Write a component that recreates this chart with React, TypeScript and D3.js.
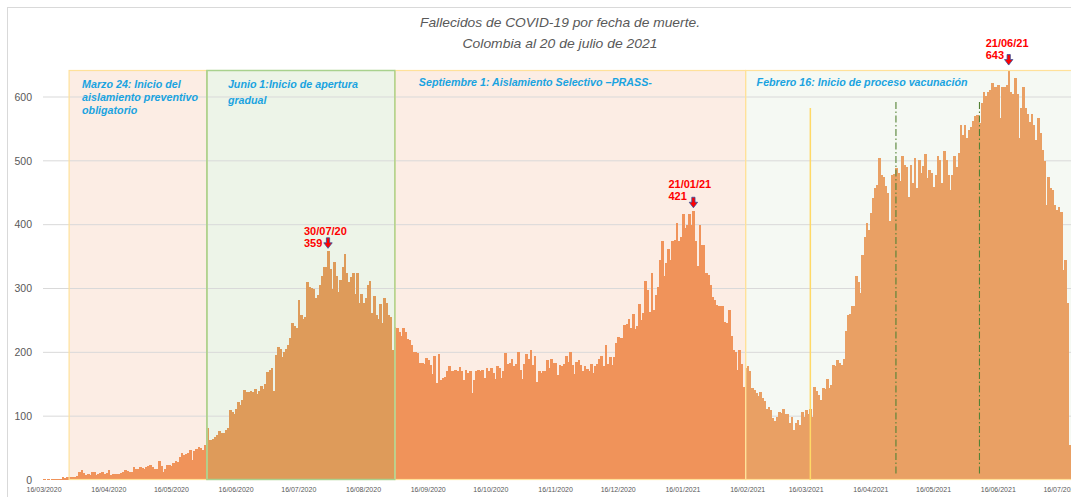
import * as d3 from 'd3';

// Fallecidos diarios por fecha de muerte, desde el 16/03/2020 (un valor por día)
const START = '2020-03-16';
const deaths = [
  1, 0, 1, 0, 2, 1, 2, 1, 2, 4,
  3, 4, 5, 4, 5, 4, 6, 13, 15, 11,
  8, 9, 8, 12, 13, 8, 9, 11, 13, 10,
  11, 15, 8, 10, 9, 10, 9, 11, 13, 15,
  14, 12, 13, 20, 18, 17, 20, 19, 18, 21,
  22, 23, 20, 17, 18, 30, 22, 13, 18, 23,
  24, 22, 27, 29, 28, 36, 42, 39, 40, 43,
  47, 31, 45, 49, 51, 50, 47, 55, 81, 62,
  63, 65, 68, 70, 76, 74, 73, 78, 81, 109,
  107, 104, 112, 122, 118, 125, 141, 138, 138, 140,
  138, 143, 135, 140, 148, 143, 150, 169, 172, 175,
  140, 196, 209, 205, 193, 200, 205, 211, 222, 246,
  241, 238, 282, 258, 253, 255, 310, 302, 301, 300,
  285, 290, 305, 320, 334, 334, 359, 330, 300, 342,
  320, 295, 313, 333, 354, 325, 310, 318, 324, 292,
  325, 277, 292, 277, 285, 306, 312, 261, 289, 258,
  253, 276, 246, 285, 277, 258, 255, 204, 240, 238,
  232, 226, 238, 232, 221, 220, 212, 201, 200, 199,
  183, 184, 182, 191, 188, 180, 166, 194, 152, 197,
  157, 160, 161, 170, 178, 171, 171, 172, 170, 177,
  170, 157, 173, 168, 170, 136, 157, 171, 173, 170,
  173, 160, 175, 170, 175, 168, 158, 178, 175, 160,
  170, 199, 182, 184, 189, 178, 182, 200, 173, 159,
  182, 197, 190, 203, 180, 195, 153, 171, 168, 170,
  171, 188, 175, 189, 184, 184, 165, 180, 178, 182,
  195, 185, 201, 180, 166, 185, 188, 180, 171, 178,
  174, 170, 182, 167, 178, 182, 190, 194, 178, 212,
  182, 193, 180, 193, 214, 224, 222, 222, 243, 245,
  252, 238, 260, 236, 241, 276, 250, 261, 311, 298,
  263, 325, 266, 290, 303, 345, 374, 319, 340, 362,
  345, 374, 376, 403, 375, 380, 417, 395, 400, 417,
  400, 421, 375, 335, 400, 368, 368, 324, 321, 305,
  287, 282, 274, 272, 272, 272, 248, 246, 266, 225,
  204, 201, 172, 204, 181, 146, 175, 178, 170, 144,
  141, 136, 131, 138, 128, 123, 112, 115, 110, 97,
  92, 99, 107, 105, 112, 104, 104, 89, 99, 78,
  89, 94, 86, 107, 99, 110, 104, 112, 99, 146,
  140, 133, 125, 144, 143, 159, 144, 149, 180, 178,
  188, 184, 180, 190, 233, 258, 260, 272, 272, 319,
  310, 293, 353, 381, 402, 392, 418, 441, 457, 462,
  504, 478, 475, 460, 449, 405, 478, 480, 488, 481,
  468, 507, 494, 491, 444, 494, 465, 505, 457, 502,
  481, 492, 510, 473, 486, 481, 459, 478, 507, 502,
  465, 515, 502, 478, 455, 478, 507, 491, 512, 556,
  540, 556, 535, 548, 553, 562, 570, 572, 559, 590,
  608, 601, 608, 611, 622, 616, 616, 619, 567, 616,
  616, 619, 643, 608, 605, 630, 605, 535, 582, 616,
  582, 574, 561, 574, 556, 533, 567, 543, 517, 500,
  431, 475, 457, 455, 431, 423, 428, 420, 329, 345,
  277, 55,
];

const tickDates = [
  '2020-03-16', '2020-04-16', '2020-05-16', '2020-06-16', '2020-07-16', '2020-08-16',
  '2020-09-16', '2020-10-16', '2020-11-16', '2020-12-16', '2021-01-16', '2021-02-16',
  '2021-03-16', '2021-04-16', '2021-05-16', '2021-06-16', '2021-07-16',
];
const yTicks = [0, 100, 200, 300, 400, 500, 600];

// periodos sombreados (inicio de cada uno, tal como se ven en la gráfica)
const periodStarts = ['2020-03-28', '2020-06-02', '2020-08-31', '2021-02-15'];
const periodNotes = [
  ['Marzo 24: Inicio del', 'aislamiento preventivo', 'obligatorio'],
  ['Junio 1:Inicio de apertura', 'gradual'],
  ['Septiembre 1: Aislamiento Selectivo –PRASS-'],
  ['Febrero 16: Inicio de proceso vacunación'],
];
const yellowLineDate = '2021-03-18';
const dashLineDates = ['2021-04-28', '2021-06-07'];

const peakDates = ['2020-07-30', '2021-01-21', '2021-06-21'];
const peakLabels = ['30/07/20', '21/01/21', '21/06/21'];

const W = 1071;
const H = 497;
const LEFT = 43;
const DAY = 2.088;
const FONT = '"Liberation Sans", Arial, sans-serif';

const periodStyle = [
  { fill: '#fcede4', stroke: '#ffe19a', bar: '#f0935a', noteX: 13, noteY: [88, 101, 114] },
  { fill: '#edf4e8', stroke: '#a9d18e', bar: '#de9b5a', noteX: 21, noteY: [88, 104] },
  { fill: '#fcede4', stroke: '#ffe19a', bar: '#f0935a', noteX: 24, noteY: [86] },
  { fill: '#f5f9f3', stroke: '#ffe19a', bar: '#e9a064', noteX: 11, noteY: [86] },
];
// posición de las etiquetas rojas respecto a la barra máxima
const peakOffsets = [
  { dx: -24, d1: -16, d2: -4, a: -13 },
  { dx: -25, d1: -23, d2: -11, a: -14 },
  { dx: -23, d1: -23, d2: -11, a: -15 },
];

const parse = d3.utcParse('%Y-%m-%d');
const start = parse(START)!;
const idxOf = (s: string) => d3.utcDay.count(start, parse(s)!);

export default function App() {
  const n = deaths.length;
  const x = d3.scaleBand<number>().domain(d3.range(n)).range([LEFT, LEFT + n * DAY]).padding(0);
  const bw = x.bandwidth();
  const cx = (i: number) => (x(i) ?? 0) + bw / 2;
  const y = d3.scaleLinear().domain([0, 600]).range([480, 97]);

  const pStart = periodStarts.map(idxOf);
  const periodOf = (i: number) => {
    let p = 0;
    for (let k = 1; k < pStart.length; k++) if (i >= pStart[k]) p = k;
    return p;
  };
  const regionTop = 70.5;
  const regionBottom = 479.5;

  const arrow = (px: number, top: number) =>
    `M${px - 1.6},${top} L${px + 1.6},${top} L${px + 1.6},${top + 5} L${px + 4.2},${top + 5} L${px},${top + 10.5} L${px - 4.2},${top + 5} L${px - 1.6},${top + 5} Z`;

  return (
    <svg width={W} height={H} style={{ position: 'absolute', left: 0, top: 0, background: '#fff' }}>
      <rect x={7.5} y={7.5} width={W} height={H} fill="#fff" stroke="#d9d9d9" />

      {/* títulos */}
      <text x={560} y={27} textAnchor="middle" fontFamily={FONT} fontStyle="italic" fontSize={13}
        fill="#595959" textLength={280} lengthAdjust="spacingAndGlyphs">
        Fallecidos de COVID-19 por fecha de muerte.
      </text>
      <text x={560} y={48} textAnchor="middle" fontFamily={FONT} fontStyle="italic" fontSize={13}
        fill="#595959" textLength={195} lengthAdjust="spacingAndGlyphs">
        Colombia al 20 de julio de 2021
      </text>

      {/* fondos de los periodos */}
      {pStart.map((s, k) => {
        const x0 = cx(s);
        const x1 = k < pStart.length - 1 ? cx(pStart[k + 1]) : W + 10;
        return <rect key={k} x={x0} y={regionTop} width={x1 - x0} height={regionBottom - regionTop}
          fill={periodStyle[k].fill} />;
      })}

      {/* rejilla */}
      {yTicks.filter(t => t > 0).map(t => (
        <line key={t} x1={LEFT} x2={W} y1={y(t)} y2={y(t)} stroke="#d9d9d9" strokeWidth={1} />
      ))}

      {/* barras diarias */}
      <g shapeRendering="crispEdges">
        {deaths.map((v, i) => (
          <rect key={i} x={x(i)} y={y(v)} width={bw + 0.6} height={y(0) - y(v)}
            fill={periodStyle[periodOf(i)].bar} />
        ))}
      </g>

      {/* bordes de los periodos */}
      {pStart.map((s, k) => {
        const x0 = cx(s);
        const x1 = k < pStart.length - 1 ? cx(pStart[k + 1]) : W + 10;
        return <rect key={k} x={x0} y={regionTop} width={x1 - x0} height={regionBottom - regionTop}
          fill="none" stroke={periodStyle[k].stroke} strokeWidth={1.2} />;
      })}
      {/* borde verde del segundo periodo encima */}
      <rect x={cx(pStart[1])} y={regionTop} width={cx(pStart[2]) - cx(pStart[1])}
        height={regionBottom - regionTop} fill="none" stroke={periodStyle[1].stroke} strokeWidth={1.3} />

      {/* líneas verticales */}
      <line x1={cx(idxOf(yellowLineDate))} x2={cx(idxOf(yellowLineDate))} y1={108} y2={480}
        stroke="#ffd966" strokeWidth={1.5} />
      {dashLineDates.map(d => (
        <line key={d} x1={cx(idxOf(d))} x2={cx(idxOf(d))} y1={102} y2={476}
          stroke="#548235" strokeWidth={1.1} strokeDasharray="7,2.5,1.5,2.5" />
      ))}

      {/* notas de los periodos */}
      {periodNotes.map((lines, k) => lines.map((t, j) => (
        <text key={`${k}-${j}`} x={cx(pStart[k]) + periodStyle[k].noteX} y={periodStyle[k].noteY[j]}
          fontFamily={FONT} fontSize={10.7} fontWeight="bold" fontStyle="italic" fill="#1aa3e0">
          {t}
        </text>
      )))}

      {/* máximos */}
      {peakDates.map((d, k) => {
        const i = idxOf(d);
        const px = cx(i);
        const top = y(deaths[i]);
        const o = peakOffsets[k];
        return (
          <g key={d}>
            <text x={px + o.dx} y={top + o.d1} fontFamily={FONT} fontSize={11} fontWeight="bold" fill="#ff0000">
              {peakLabels[k]}
            </text>
            <text x={px + o.dx} y={top + o.d2} fontFamily={FONT} fontSize={11} fontWeight="bold" fill="#ff0000">
              {deaths[i]}
            </text>
            <path d={arrow(px, top + o.a)} fill="#ff0000" stroke="#2f4f9f" strokeWidth={0.8} />
          </g>
        );
      })}

      {/* eje y */}
      {yTicks.map(t => (
        <text key={t} x={32} y={y(t)} dy="0.35em" textAnchor="end" fontFamily={FONT} fontSize={10.5} fill="#595959">
          {t}
        </text>
      ))}

      {/* eje x */}
      {tickDates.map(d => {
        const i = idxOf(d);
        const [yy, mm, dd] = d.split('-');
        return (
          <text key={d} x={cx(i)} y={492} textAnchor="middle" fontFamily={FONT} fontSize={7} fill="#595959">
            {`${dd}/${mm}/${yy}`}
          </text>
        );
      })}
    </svg>
  );
}
